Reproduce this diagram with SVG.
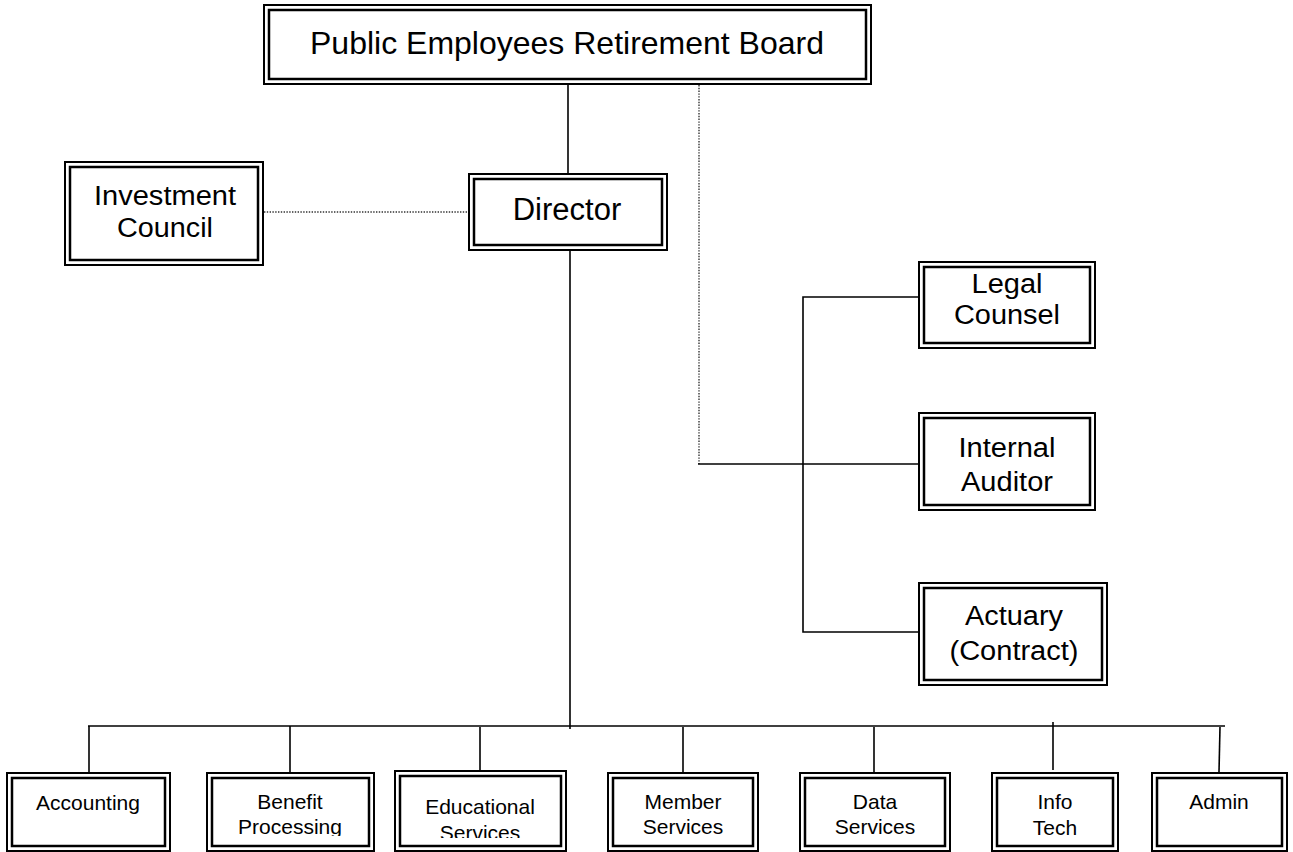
<svg xmlns="http://www.w3.org/2000/svg" width="1293" height="852" viewBox="0 0 1293 852">
<defs>
<style>
.o{fill:#fff;stroke:#000;stroke-width:2}
.i{fill:none;stroke:#000;stroke-width:2.5}
.t{font-family:"Liberation Sans",Arial,sans-serif;fill:#000;text-anchor:middle}
.big{font-size:32px}
.dir{font-size:31px}
.mid{font-size:27px}
.sm{font-size:21px}
.ln{stroke:#000;stroke-width:1.6;fill:none}
.dot{stroke:#333;stroke-width:1.4;stroke-dasharray:1.4 1.4;fill:none}
</style>
<clipPath id="cb"><rect x="207" y="773" width="167" height="63"/></clipPath>
<clipPath id="ce"><rect x="395" y="771" width="171" height="67"/></clipPath>
</defs>
<rect width="1293" height="852" fill="#fff"/>
<g id="connectors">
<line class="ln" x1="568" y1="84" x2="568" y2="174"/>
<polyline class="dot" points="699,85 699,464"/>
<line class="ln" x1="698" y1="464" x2="919" y2="464"/>
<line class="dot" x1="264" y1="212" x2="469" y2="212"/>
<polyline class="ln" points="919,297 803,297 803,632 919,632"/>
<line class="ln" x1="570" y1="250" x2="570" y2="729"/>
<line class="ln" x1="88" y1="726" x2="1225" y2="726"/>
<line class="ln" x1="89" y1="726" x2="89" y2="773"/>
<line class="ln" x1="290" y1="726" x2="290" y2="773"/>
<line class="ln" x1="480" y1="727" x2="480" y2="771"/>
<line class="ln" x1="683" y1="727" x2="683" y2="773"/>
<line class="ln" x1="874" y1="727" x2="874" y2="773"/>
<line class="ln" x1="1053" y1="722" x2="1053" y2="770"/>
<line class="ln" x1="1220" y1="727" x2="1219" y2="772"/>
</g>
<g id="board">
<rect class="o" x="264" y="5" width="607" height="79"/>
<rect class="i" x="269" y="10" width="597" height="69"/>
<text class="t big" x="567" y="54">Public Employees Retirement Board</text>
</g>
<g id="investment">
<rect class="o" x="65" y="162" width="198" height="103"/>
<rect class="i" x="70" y="167" width="188" height="93"/>
<text class="t mid" x="165" y="205" textLength="142" lengthAdjust="spacingAndGlyphs">Investment</text>
<text class="t mid" x="165" y="237" textLength="96" lengthAdjust="spacingAndGlyphs">Council</text>
</g>
<g id="director">
<rect class="o" x="469" y="174" width="198" height="76"/>
<rect class="i" x="474" y="179" width="188" height="66"/>
<text class="t dir" x="567" y="220">Director</text>
</g>
<g id="legal">
<rect class="o" x="919" y="262" width="176" height="86"/>
<rect class="i" x="924" y="267" width="166" height="76"/>
<text class="t mid" x="1007" y="293" textLength="71" lengthAdjust="spacingAndGlyphs">Legal</text>
<text class="t mid" x="1007" y="324" textLength="106" lengthAdjust="spacingAndGlyphs">Counsel</text>
</g>
<g id="auditor">
<rect class="o" x="919" y="413" width="176" height="97"/>
<rect class="i" x="924" y="418" width="166" height="87"/>
<text class="t mid" x="1007" y="457" textLength="97" lengthAdjust="spacingAndGlyphs">Internal</text>
<text class="t mid" x="1007" y="491" textLength="92" lengthAdjust="spacingAndGlyphs">Auditor</text>
</g>
<g id="actuary">
<rect class="o" x="919" y="583" width="188" height="102"/>
<rect class="i" x="924" y="588" width="178" height="92"/>
<text class="t mid" x="1014" y="625" textLength="98" lengthAdjust="spacingAndGlyphs">Actuary</text>
<text class="t mid" x="1014" y="660" textLength="129" lengthAdjust="spacingAndGlyphs">(Contract)</text>
</g>
<g id="accounting">
<rect class="o" x="7" y="773" width="163" height="78"/>
<rect class="i" x="12" y="778" width="153" height="68"/>
<text class="t sm" x="88" y="810">Accounting</text>
</g>
<g id="benefit">
<rect class="o" x="207" y="773" width="167" height="78"/>
<rect class="i" x="212" y="778" width="157" height="68"/>
<text class="t sm" x="290" y="809">Benefit</text>
<text class="t sm" x="290" y="834" clip-path="url(#cb)">Processing</text>
</g>
<g id="educational">
<rect class="o" x="395" y="771" width="171" height="80"/>
<rect class="i" x="400" y="776" width="161" height="70"/>
<text class="t sm" x="480" y="814">Educational</text>
<text class="t sm" x="480" y="840" clip-path="url(#ce)">Services</text>
</g>
<g id="member">
<rect class="o" x="608" y="773" width="150" height="78"/>
<rect class="i" x="613" y="778" width="140" height="68"/>
<text class="t sm" x="683" y="809">Member</text>
<text class="t sm" x="683" y="834">Services</text>
</g>
<g id="data">
<rect class="o" x="800" y="773" width="150" height="78"/>
<rect class="i" x="805" y="778" width="140" height="68"/>
<text class="t sm" x="875" y="809">Data</text>
<text class="t sm" x="875" y="834">Services</text>
</g>
<g id="info">
<rect class="o" x="992" y="773" width="126" height="78"/>
<rect class="i" x="997" y="778" width="116" height="68"/>
<text class="t sm" x="1055" y="809">Info</text>
<text class="t sm" x="1055" y="835">Tech</text>
</g>
<g id="admin">
<rect class="o" x="1152" y="773" width="135" height="78"/>
<rect class="i" x="1157" y="778" width="125" height="68"/>
<text class="t sm" x="1219" y="809">Admin</text>
</g>
</svg>
